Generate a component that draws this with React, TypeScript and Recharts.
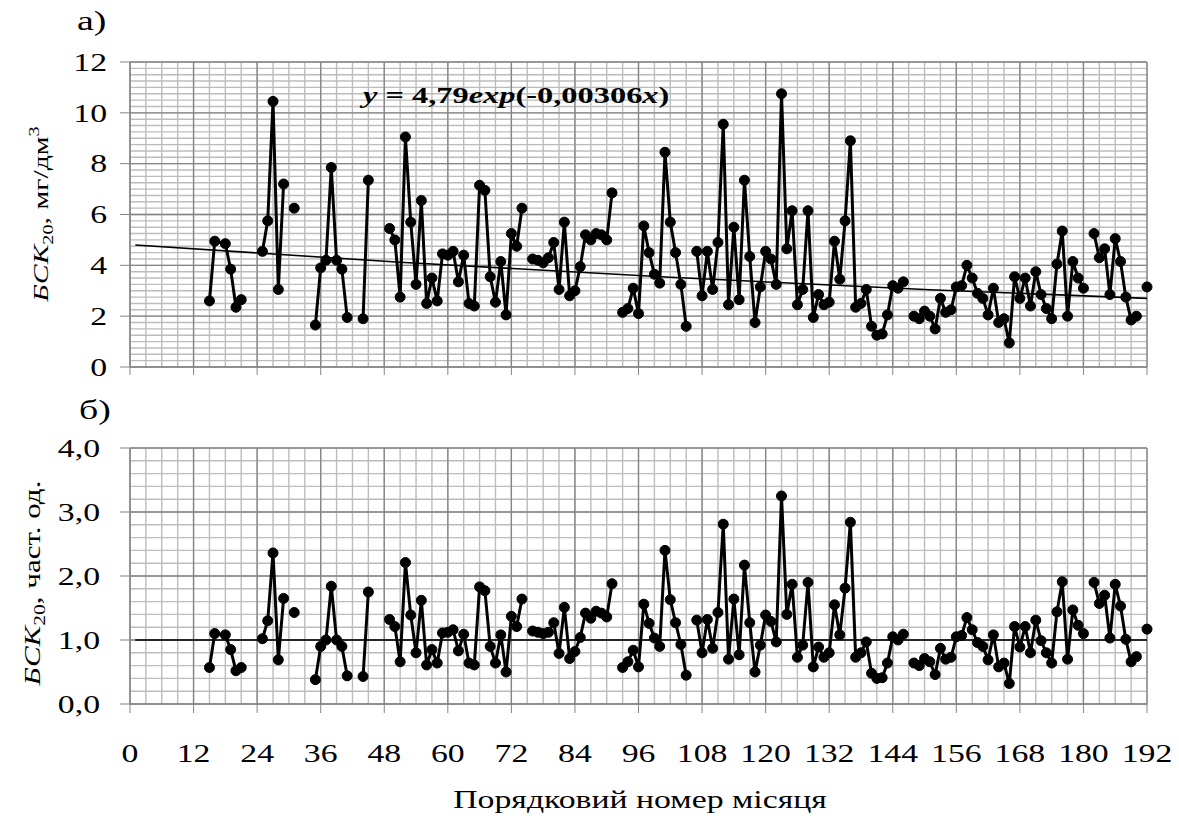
import React from "react";
import { CartesianGrid, Line, LineChart, XAxis, YAxis } from "recharts";

// month number; a null value marks a break in the record
const months = [
  15, 16, 18, 19, 20, 21, 22,
  25, 26, 27, 28, 29, 30, 31, 32,
  35, 36, 37, 38, 39, 40, 41, 42,
  44, 45, 46,
  49, 50, 51, 52, 53, 54, 55, 56, 57, 58, 59, 60, 61, 62, 63, 64, 65, 66, 67, 68, 69, 70, 71, 72, 73, 74, 75,
  76, 77, 78, 79, 80, 81, 82, 83, 84, 85, 86, 87, 88, 89, 90, 91, 92,
  93, 94, 95, 96, 97, 98, 99, 100, 101, 102, 103, 104, 105, 106,
  107, 108, 109, 110, 111, 112, 113, 114, 115, 116, 117, 118, 119, 120, 121, 122, 123, 124, 125, 126,
  127, 128, 129, 130, 131, 132, 133, 134, 135, 136, 137, 138, 139, 140, 141, 142, 143, 144, 145, 146, 147,
  148, 149, 150, 151, 152, 153, 154, 155, 156, 157, 158, 159, 160, 161, 162, 163, 164, 165, 166, 167,
  168, 169, 170, 171, 172, 173, 174, 175, 176, 177, 178, 179, 180, 181,
  182, 183, 184, 185, 186, 187, 188, 189, 190, 191,
  192,
];

// БСК20, мг/дм3
const bodA = [
  2.6, 4.95, 4.85, 3.85, 2.35, 2.65, null,
  4.55, 5.75, 10.45, 3.05, 7.2, null, 6.25, null,
  1.65, 3.9, 4.2, 7.85, 4.2, 3.85, 1.95, null,
  1.9, 7.35, null,
  5.45, 5.0, 2.75, 9.05, 5.7, 3.25, 6.55, 2.5, 3.5, 2.6, 4.45, 4.4, 4.55, 3.35, 4.4, 2.5, 2.4, 7.15, 6.95, 3.55, 2.55, 4.15, 2.05, 5.25, 4.75, 6.25, null,
  4.25, 4.2, 4.1, 4.3, 4.9, 3.05, 5.7, 2.8, 3.0, 3.95, 5.2, 5.0, 5.25, 5.2, 5.0, 6.85, null,
  2.15, 2.3, 3.1, 2.1, 5.55, 4.5, 3.65, 3.3, 8.45, 5.7, 4.5, 3.25, 1.6, null,
  4.55, 2.8, 4.55, 3.05, 4.9, 9.55, 2.45, 5.5, 2.65, 7.35, 4.35, 1.75, 3.15, 4.55, 4.25, 3.25, 10.75, 4.65, 6.15, 2.45,
  3.05, 6.15, 1.95, 2.85, 2.45, 2.55, 4.95, 3.45, 5.75, 8.9, 2.35, 2.5, 3.05, 1.6, 1.25, 1.3, 2.05, 3.2, 3.1, 3.35, null,
  2.0, 1.9, 2.2, 2.0, 1.5, 2.7, 2.15, 2.25, 3.15, 3.2, 4.0, 3.5, 2.9, 2.7, 2.05, 3.1, 1.75, 1.9, 0.95, 3.55,
  2.7, 3.5, 2.4, 3.75, 2.85, 2.3, 1.9, 4.05, 5.35, 2.0, 4.15, 3.5, 3.1, null,
  5.25, 4.3, 4.65, 2.85, 5.05, 4.15, 2.75, 1.85, 2.0, null,
  3.15,
];

// БСК20, част. од.
const bodB = [
  0.57, 1.1, 1.08, 0.85, 0.52, 0.57, null,
  1.02, 1.3, 2.36, 0.69, 1.65, null, 1.43, null,
  0.38, 0.9, 1.0, 1.84, 1.0, 0.9, 0.44, null,
  0.43, 1.75, null,
  1.32, 1.21, 0.66, 2.21, 1.39, 0.8, 1.62, 0.61, 0.85, 0.64, 1.11, 1.12, 1.16, 0.83, 1.09, 0.64, 0.61, 1.83, 1.77, 0.9, 0.64, 1.08, 0.5, 1.37, 1.21, 1.64, null,
  1.14, 1.12, 1.1, 1.12, 1.27, 0.79, 1.51, 0.71, 0.82, 1.04, 1.42, 1.34, 1.45, 1.42, 1.36, 1.88, null,
  0.57, 0.66, 0.84, 0.58, 1.56, 1.26, 1.03, 0.9, 2.4, 1.63, 1.27, 0.93, 0.45, null,
  1.31, 0.8, 1.32, 0.87, 1.43, 2.81, 0.7, 1.64, 0.77, 2.17, 1.27, 0.5, 0.92, 1.39, 1.29, 0.97, 3.25, 1.4, 1.87, 0.73,
  0.92, 1.9, 0.58, 0.89, 0.73, 0.8, 1.55, 1.08, 1.81, 2.84, 0.73, 0.8, 0.97, 0.48, 0.4, 0.41, 0.64, 1.05, 1.0, 1.09, null,
  0.64, 0.6, 0.71, 0.66, 0.46, 0.87, 0.7, 0.73, 1.05, 1.07, 1.35, 1.16, 0.96, 0.9, 0.69, 1.08, 0.58, 0.64, 0.32, 1.21,
  0.89, 1.21, 0.8, 1.31, 0.99, 0.8, 0.64, 1.44, 1.91, 0.7, 1.47, 1.23, 1.1, null,
  1.9, 1.57, 1.7, 1.03, 1.87, 1.53, 1.01, 0.66, 0.74, null,
  1.17,
];

// trend line read off panel a), level line of panel b)
const trendMonths = [1, 51, 102, 151, 192];
const trendA = [4.8, 4.12, 3.53, 3.04, 2.7];
const levelMonths = [1, 192];
const levelB = [1, 1];

const xTicks = [0, 12, 24, 36, 48, 60, 72, 84, 96, 108, 120, 132, 144, 156, 168, 180, 192];
const yTicksA = [0, 2, 4, 6, 8, 10, 12];
const yTicksB = [0, 1, 2, 3, 4];

const FONT = '"Liberation Serif", "Times New Roman", serif';
const SX = 1.35; // the reference type is drawn wide
const AXIS = "#858585";
const MAJOR = "#858585";
const MINOR = "#bcbcbc";

const steps = (max: number, step: number) => {
  const out: number[] = [];
  for (let v = 0; v <= max + 1e-9; v += step) out.push(+v.toFixed(4));
  return out;
};

const seriesA = months.map((m, i) => ({ m, v: bodA[i] }));
const seriesB = months.map((m, i) => ({ m, v: bodB[i] }));
const trendData = trendMonths.map((m, i) => ({ m, v: trendA[i] }));
const levelData = levelMonths.map((m, i) => ({ m, v: levelB[i] }));

function YTick(props: any) {
  const { x, y, payload, fmt } = props;
  return (
    <text
      transform={`translate(${x},${y}) scale(${SX},1)`}
      textAnchor="end"
      dy="0.35em"
      fontSize={25}
      fontFamily={FONT}
      fill="#000"
    >
      {fmt(payload.value)}
    </text>
  );
}

function XTick(props: any) {
  const { x, y, payload } = props;
  return (
    <text
      transform={`translate(${x},${y}) scale(${SX},1)`}
      textAnchor="middle"
      dy="0.71em"
      fontSize={25}
      fontFamily={FONT}
      fill="#000"
    >
      {payload.value}
    </text>
  );
}

function grid(xMax: number, yMax: number, xStep: number, yStep: number, stroke: string, w: number) {
  const xs = steps(xMax, xStep);
  const ys = steps(yMax, yStep);
  return (
    <CartesianGrid
      stroke={stroke}
      strokeWidth={w}
      verticalCoordinatesGenerator={({ offset }: any) =>
        xs.map((v) => offset.left + (v / xMax) * offset.width)
      }
      horizontalCoordinatesGenerator={({ offset }: any) =>
        ys.map((v) => offset.top + offset.height * (1 - v / yMax))
      }
    />
  );
}

const dotStyle = { r: 5, fill: "#000", stroke: "#000", strokeWidth: 1 };

function Panel({
  data,
  height,
  margin,
  yMax,
  yTicks,
  yMinor,
  fmt,
  xLabels,
  xAxisHeight,
  refLine,
  tickMarginY,
}: any) {
  return (
    <LineChart width={1179} height={height} margin={margin}>
      {grid(192, yMax, 3, yMinor, MINOR, 1.4)}
      {grid(192, yMax, 12, yMax === 12 ? 2 : 1, MAJOR, 1.3)}
      <XAxis
        dataKey="m"
        type="number"
        domain={[0, 192]}
        ticks={xTicks}
        interval={0}
        height={xAxisHeight}
        stroke={AXIS}
        tickSize={xLabels ? 9 : 8}
        tickMargin={xLabels ? 31 : 0}
        tick={xLabels ? (p: any) => <XTick {...p} /> : () => <g />}
      />
      <YAxis
        type="number"
        domain={[0, yMax]}
        ticks={yTicks}
        interval={0}
        width={60}
        stroke={AXIS}
        tickSize={10}
        tickMargin={tickMarginY}
        tick={(p: any) => <YTick {...p} fmt={fmt} />}
      />
      <Line
        data={refLine}
        dataKey="v"
        type="linear"
        stroke="#000"
        strokeWidth={1.6}
        dot={false}
        isAnimationActive={false}
      />
      <Line
        data={data}
        dataKey="v"
        type="linear"
        stroke="#000"
        strokeWidth={3}
        dot={dotStyle}
        connectNulls={false}
        isAnimationActive={false}
      />
    </LineChart>
  );
}

const T = (x: number, y: number, rot = 0) =>
  `translate(${x},${y})${rot ? ` rotate(${rot})` : ""} scale(${SX},1)`;

export default function App() {
  return (
    <div
      style={{
        position: "absolute",
        left: 0,
        top: 0,
        width: 1179,
        height: 824,
        background: "#fff",
        fontFamily: FONT,
      }}
    >
      <div style={{ position: "absolute", left: 0, top: 0 }}>
        <Panel
          data={seriesA}
          height={400}
          margin={{ top: 62, right: 32, left: 70, bottom: 23 }}
          yMax={12}
          yTicks={yTicksA}
          yMinor={0.25}
          fmt={(v: number) => String(v)}
          xLabels={false}
          xAxisHeight={10}
          refLine={trendData}
          tickMarginY={13}
        />
      </div>
      <div style={{ position: "absolute", left: 0, top: 400 }}>
        <Panel
          data={seriesB}
          height={424}
          margin={{ top: 48, right: 32, left: 70, bottom: 20 }}
          yMax={4}
          yTicks={yTicksB}
          yMinor={0.2}
          fmt={(v: number) => v.toFixed(1).replace(".", ",")}
          xLabels={true}
          xAxisHeight={100}
          refLine={levelData}
          tickMarginY={20}
        />
      </div>
      <svg
        width={1179}
        height={824}
        style={{ position: "absolute", left: 0, top: 0, pointerEvents: "none" }}
        fontFamily={FONT}
        fill="#000"
      >
        <text transform={T(77, 30)} fontSize={28}>а)</text>
        <text transform={T(79, 419)} fontSize={28}>б)</text>
        <text transform={T(363, 103)} fontSize={24} fontWeight="bold">
          <tspan fontStyle="italic">y</tspan>
          <tspan> = 4,79</tspan>
          <tspan fontStyle="italic">exp</tspan>
          <tspan>(-0,00306</tspan>
          <tspan fontStyle="italic">x</tspan>
          <tspan>)</tspan>
        </text>
        <text transform={T(48, 214, -90)} fontSize={22} textAnchor="middle">
          <tspan fontStyle="italic">БСК</tspan>
          <tspan fontSize={15} dy={5}>20</tspan>
          <tspan dy={-5}>, мг/дм</tspan>
          <tspan fontSize={15} dy={-9}>3</tspan>
        </text>
        <text transform={T(40, 583, -90)} fontSize={23} textAnchor="middle">
          <tspan fontStyle="italic">БСК</tspan>
          <tspan fontSize={16} dy={5}>20</tspan>
          <tspan dy={-5}>, част. од.</tspan>
        </text>
        <text transform={T(640, 808)} fontSize={25} textAnchor="middle">
          Порядковий номер місяця
        </text>
      </svg>
    </div>
  );
}
